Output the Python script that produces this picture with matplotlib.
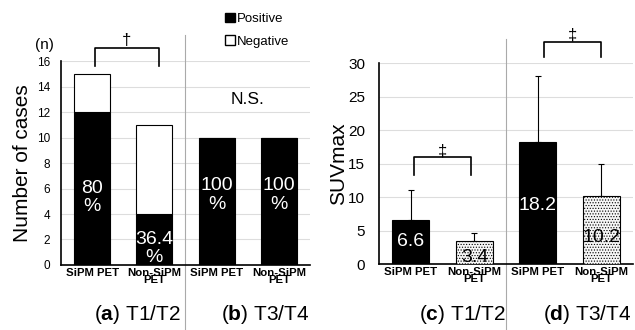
import matplotlib
matplotlib.use("Agg")
import matplotlib.pyplot as plt
from matplotlib.patches import Patch
from matplotlib.transforms import blended_transform_factory
import numpy as np

plt.rcParams['font.family'] = ['Liberation Sans', 'DejaVu Sans']
plt.rcParams['mathtext.fontset'] = 'custom'
plt.rcParams['mathtext.rm'] = 'Liberation Sans'
plt.rcParams['mathtext.bf'] = 'Liberation Sans:bold'
plt.rcParams['hatch.color'] = '#a0a0a0'
plt.rcParams['hatch.linewidth'] = 0.5

categories = ["SiPM PET", "Non-SiPM\nPET", "SiPM PET", "Non-SiPM\nPET"]
positive = [12, 4, 10, 10]
negative = [3, 7, 0, 0]
pct_labels = ["80\n%", "36.4\n%", "100\n%", "100\n%"]
suv_mean = [6.6, 3.4, 18.2, 10.2]
suv_err = [4.4, 1.3, 9.8, 4.8]
panel_titles = ["T1/T2", "T3/T4", "T1/T2", "T3/T4"]
panel_letters = ["a", "b", "c", "d"]

fig = plt.figure(figsize=(6.35, 3.3), dpi=100)
axL = fig.add_axes([0.0961, 0.197, 0.392, 0.618])
axR = fig.add_axes([0.597, 0.200, 0.400, 0.609])

x = np.arange(len(categories))
w = 0.58

# ---- left panel
axL.bar(x, positive, w, color='black', edgecolor='black', linewidth=0.8, zorder=3)
axL.bar(x, negative, w, bottom=positive, color='white', edgecolor='black', linewidth=0.8, zorder=3)
axL.set_ylim(0, 16)
axL.set_xlim(-0.5, 3.5)
axL.set_yticks(range(0, 17, 2))
axL.tick_params(axis='y', labelsize=8.5, length=0, pad=8)
axL.tick_params(axis='x', length=0, pad=2)
axL.set_xticks(x)
axL.set_xticklabels(categories, fontsize=8.2, fontweight='bold', linespacing=0.6)
axL.grid(axis='y', color='#dddddd', linewidth=0.8, zorder=0)
for s in ['top', 'right']:
    axL.spines[s].set_visible(False)
axL.spines['left'].set_linewidth(1.2)
axL.spines['bottom'].set_linewidth(1.2)
axL.set_ylabel("Number of cases", fontsize=15, labelpad=3)
label_y_L = [5.3, 1.3, 5.5, 5.5]
for i, (lab, yy) in enumerate(zip(pct_labels, label_y_L)):
    axL.text(x[i], yy, lab, color='white', ha='center', va='center', fontsize=14,
             linespacing=1.1, zorder=5)
trL = blended_transform_factory(axL.transData, axL.transAxes)
axL.plot([1.5, 1.5], [-0.32, 1.13], transform=trL, color='#aaaaaa', lw=0.8, clip_on=False)
# bracket
axL.plot([0.05, 0.05, 1.07, 1.07], [15.6, 17.0, 17.0, 15.6], color='black', lw=1.2, clip_on=False, zorder=6)
axL.text(0.55, 17.0, "†", ha='center', va='bottom', fontsize=12, clip_on=False)
fig.text(44 / 635, 1 - 45 / 330, "(n)", ha='center', va='center', fontsize=11)
axL.text(2.5, 13.0, "N.S.", ha='center', va='center', fontsize=12.5)
axL.legend(handles=[Patch(facecolor='black', edgecolor='black', label='Positive'),
                    Patch(facecolor='white', edgecolor='black', label='Negative')],
           loc='upper left', bbox_to_anchor=(0.334, 1.0), bbox_transform=fig.transFigure,
           frameon=False, fontsize=9.5, handlelength=0.7, handleheight=0.7,
           handletextpad=0.2, labelspacing=0.75, borderaxespad=0.6)

# ---- right panel
colors = ['black', '#f6f6f6', 'black', '#f6f6f6']
hatches = [None, '......', None, '......']
for i in range(4):
    axR.bar(x[i], suv_mean[i], w, color=colors[i], edgecolor='black', linewidth=0.8,
            hatch=hatches[i], zorder=3)
    axR.errorbar(x[i], suv_mean[i], yerr=[[0], [suv_err[i]]], fmt='none', ecolor='black',
                 elinewidth=0.8, capsize=2, capthick=0.8, zorder=4)
axR.set_ylim(0, 30)
axR.set_xlim(-0.5, 3.5)
axR.set_yticks(range(0, 31, 5))
axR.tick_params(axis='y', labelsize=11, length=0, pad=10)
axR.tick_params(axis='x', length=0, pad=2)
axR.set_xticks(x)
axR.set_xticklabels(categories, fontsize=8.2, fontweight='bold', linespacing=0.6)
axR.grid(axis='y', color='#dddddd', linewidth=0.8, zorder=0)
for s in ['top', 'right']:
    axR.spines[s].set_visible(False)
axR.spines['left'].set_linewidth(1.2)
axR.spines['bottom'].set_linewidth(1.2)
axR.set_ylabel("SUVmax", fontsize=15, labelpad=0)
label_y_R = [3.3, 1.0, 8.8, 3.9]
label_c = ['white', 'black', 'white', 'black']
for i in range(4):
    axR.text(x[i], label_y_R[i], f"{suv_mean[i]:.1f}", color=label_c[i], ha='center',
             va='center', fontsize=14, zorder=5)
trR = blended_transform_factory(axR.transData, axR.transAxes)
axR.plot([1.5, 1.5], [-0.33, 1.12], transform=trR, color='#aaaaaa', lw=0.8, clip_on=False)
axR.plot([0.05, 0.05, 0.95, 0.95], [13.3, 16.0, 16.0, 13.3], color='black', lw=1.2, clip_on=False, zorder=6)
axR.text(0.5, 15.8, "‡", ha='center', va='bottom', fontsize=12, clip_on=False, zorder=6)
axR.plot([2.1, 2.1, 3.0, 3.0], [30.9, 33.2, 33.2, 30.9], color='black', lw=1.2, clip_on=False)
axR.text(2.55, 33.0, "‡", ha='center', va='bottom', fontsize=12, clip_on=False)

# panel captions
cap_x = [137, 265, 462, 587]
for i in range(4):
    fig.text(cap_x[i] / 635, 1 - 314 / 330,
             "(" + r"$\mathbf{" + panel_letters[i] + "}$" + ") " + panel_titles[i],
             ha='center', va='center', fontsize=15)

fig.savefig("out.png", dpi=100)
